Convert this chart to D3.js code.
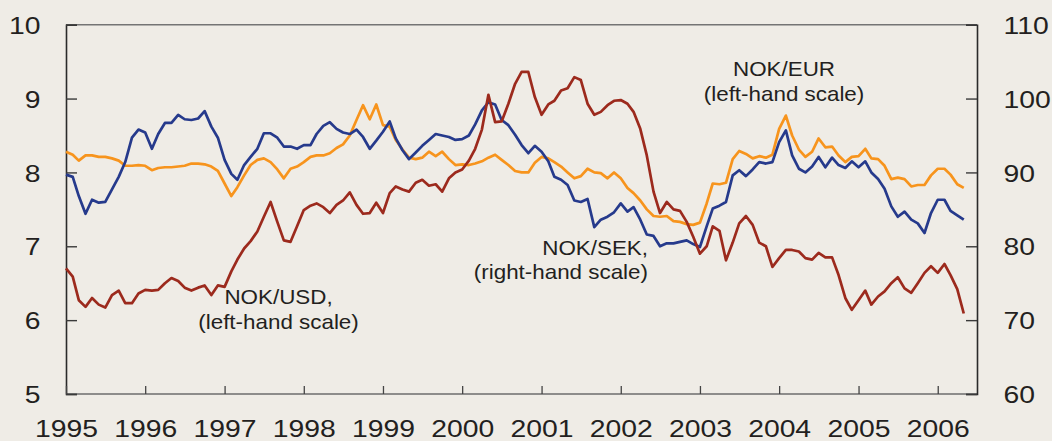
<!DOCTYPE html>
<html>
<head>
<meta charset="utf-8">
<script src="https://cdn.jsdelivr.net/npm/d3@7"></script>
<style>
  html, body { margin: 0; padding: 0; background: #efece6; }
  svg { display: block; }
  text { font-family: "Liberation Sans", Arial, Helvetica, sans-serif; fill: #231f20; }
</style>
</head>
<body>
<svg id="chart" width="1052" height="441"></svg>
<script>
// Monthly exchange rates, January 1995 to May 2006
const startMonth = new Date(1995, 0, 1);
const endMonth = new Date(2006, 5, 1);

// NOK per USD (left-hand scale)
const nokUsd = [
  6.70, 6.59, 6.27, 6.18, 6.30, 6.21, 6.17, 6.34, 6.40, 6.23, 6.23, 6.36,
  6.41, 6.40, 6.41, 6.50, 6.57, 6.53, 6.44, 6.40, 6.44, 6.47, 6.34, 6.47,
  6.45, 6.66, 6.82, 6.97, 7.07, 7.20, 7.40, 7.60, 7.33, 7.08, 7.06, 7.27,
  7.49, 7.55, 7.58, 7.53, 7.45, 7.56, 7.62, 7.73, 7.56, 7.44, 7.45, 7.59,
  7.45, 7.72, 7.81, 7.77, 7.74, 7.86, 7.90, 7.82, 7.84, 7.74, 7.92, 8.00,
  8.04, 8.16, 8.32, 8.58, 9.05, 8.68, 8.69, 8.93, 9.20, 9.36, 9.36, 9.02,
  8.78, 8.92, 8.97, 9.11, 9.14, 9.29, 9.25, 8.93, 8.78, 8.82, 8.91, 8.97,
  8.98, 8.93, 8.82, 8.59, 8.23, 7.74, 7.45, 7.60, 7.50, 7.48, 7.33, 7.13,
  6.90, 7.00, 7.27, 7.21, 6.81, 7.05, 7.31, 7.41, 7.29, 7.05, 7.00, 6.72,
  6.84, 6.95, 6.95, 6.93, 6.84, 6.82, 6.91, 6.85, 6.85, 6.61, 6.30, 6.14,
  6.27, 6.40, 6.21, 6.32, 6.39, 6.50, 6.58, 6.43, 6.37, 6.50, 6.64, 6.73,
  6.64, 6.76, 6.61, 6.42, 6.09
];

// NOK per EUR (left-hand scale)
const nokEur = [
  8.28, 8.24, 8.16, 8.23, 8.23, 8.21, 8.21, 8.19, 8.16, 8.09, 8.09, 8.10,
  8.09, 8.03, 8.06, 8.07, 8.07, 8.08, 8.09, 8.12, 8.12, 8.11, 8.08, 8.02,
  7.85, 7.68, 7.80, 7.96, 8.10, 8.17, 8.19, 8.14, 8.04, 7.92, 8.05, 8.08,
  8.14, 8.21, 8.23, 8.23, 8.26, 8.33, 8.38, 8.50, 8.71, 8.91, 8.72, 8.92,
  8.64, 8.62, 8.44, 8.31, 8.20, 8.18, 8.20, 8.28, 8.22, 8.28, 8.18, 8.10,
  8.11, 8.10, 8.12, 8.15, 8.20, 8.24, 8.17, 8.10, 8.02, 8.00, 8.00, 8.13,
  8.21, 8.19, 8.14, 8.08, 8.00, 7.92, 7.95, 8.05, 8.00, 7.99, 7.92, 8.00,
  7.92, 7.79, 7.72, 7.62, 7.50, 7.41, 7.40, 7.41, 7.34, 7.33, 7.30, 7.29,
  7.32, 7.58, 7.85, 7.84, 7.86, 8.18, 8.29, 8.25, 8.19, 8.22, 8.20, 8.24,
  8.59, 8.77, 8.50, 8.31, 8.21, 8.28, 8.46, 8.34, 8.35, 8.23, 8.14, 8.21,
  8.22, 8.32, 8.19, 8.18, 8.09, 7.91, 7.93, 7.91, 7.81, 7.83, 7.83, 7.96,
  8.05, 8.05, 7.97, 7.84, 7.79
];

// NOK per 100 SEK (right-hand scale)
const nokSek = [
  89.7, 89.4, 86.8, 84.4, 86.3, 85.9, 86.0, 87.7, 89.4, 91.4, 94.7, 95.8,
  95.4, 93.2, 95.2, 96.7, 96.7, 97.8, 97.2, 97.1, 97.3, 98.3, 96.2, 94.7,
  91.7, 89.8, 89.0, 91.0, 92.1, 93.2, 95.3, 95.3, 94.7, 93.5, 93.5, 93.2,
  93.7, 93.7, 95.2, 96.3, 96.8, 95.9, 95.4, 95.2, 95.8, 94.8, 93.2, 94.3,
  95.5, 96.9, 94.6, 93.0, 91.8, 92.7, 93.6, 94.4, 95.2, 95.0, 94.8, 94.4,
  94.5, 95.0, 96.5, 98.4, 99.5, 99.2, 97.1, 96.4, 95.1, 93.7, 92.6, 93.6,
  92.8, 91.5, 89.4, 89.0, 88.3, 86.2, 86.0, 86.4, 82.6, 83.6, 84.0, 84.6,
  85.8, 84.7, 85.3, 83.6, 81.6, 81.4, 80.0, 80.4, 80.4, 80.6, 80.8, 80.3,
  79.9, 82.7, 85.1, 85.5, 86.0, 89.6, 90.3, 89.5, 90.4, 91.4, 91.2, 91.4,
  94.1, 95.7, 92.3, 90.5, 90.0, 90.8, 92.1, 90.7, 92.0, 91.0, 90.6, 91.5,
  90.7, 91.5, 90.0, 89.1, 87.8, 85.4, 84.0, 84.7, 83.6, 83.1, 81.8, 84.5,
  86.3, 86.3, 84.8, 84.2, 83.6
];

// Axis ticks
const leftTicks = [5, 6, 7, 8, 9, 10];
const rightTicks = [60, 70, 80, 90, 100, 110];
const yearTicks = [1995, 1996, 1997, 1998, 1999, 2000, 2001, 2002, 2003, 2004, 2005, 2006];

// Series labels
const labelUsd = ["NOK/USD,", "(left-hand scale)"];
const labelSek = ["NOK/SEK,", "(right-hand scale)"];
const labelEur = ["NOK/EUR", "(left-hand scale)"];

const months = d3.timeMonth.range(startMonth, endMonth);

const svg = d3.select("#chart");
const W = 1052, H = 441;
const plot = { left: 66, right: 977, top: 24.7, bottom: 394 };

svg.append("rect").attr("width", W).attr("height", H).attr("fill", "#efece6");

const x = d3.scaleTime()
  .domain([new Date(1995, 0, 1), new Date(2006, 6, 1)])
  .range([plot.left, plot.right]);
const yL = d3.scaleLinear().domain([5, 10]).range([plot.bottom, plot.top]);
const yR = d3.scaleLinear().domain([60, 110]).range([plot.bottom, plot.top]);

const TICK_FONT = 24, TICK_STRETCH = 1.18;

// Frame: light top and bottom rules, dark side axes
svg.append("line").attr("x1", plot.left).attr("x2", plot.right)
  .attr("y1", plot.top).attr("y2", plot.top)
  .attr("stroke", "#747474").attr("stroke-width", 1.4);
svg.append("line").attr("x1", plot.left).attr("x2", plot.right)
  .attr("y1", plot.bottom).attr("y2", plot.bottom)
  .attr("stroke", "#6c6c6c").attr("stroke-width", 1.4);

// Left axis
const gL = svg.append("g").attr("transform", `translate(${plot.left},0)`)
  .call(d3.axisLeft(yL).tickValues(leftTicks).tickSize(-11).tickFormat(d3.format("d")));
gL.select(".domain").attr("stroke", "#2a2a2a").attr("stroke-width", 1.6);
gL.selectAll(".tick line").attr("stroke", "#3a3a3a").attr("stroke-width", 1.4);
gL.selectAll(".tick text")
  .attr("x", 0).attr("dy", "0.36em")
  .attr("transform", `translate(-25.5,0) scale(${TICK_STRETCH},1)`)
  .attr("text-anchor", "end")
  .style("font-size", TICK_FONT + "px")
  .style("font-family", "'Liberation Sans', Arial, sans-serif")
  .attr("fill", "#231f20");

// Right axis
const gR = svg.append("g").attr("transform", `translate(${plot.right},0)`)
  .call(d3.axisRight(yR).tickValues(rightTicks).tickSize(-11).tickFormat(d3.format("d")));
gR.select(".domain").attr("stroke", "#2a2a2a").attr("stroke-width", 1.6);
gR.selectAll(".tick line").attr("stroke", "#3a3a3a").attr("stroke-width", 1.4);
gR.selectAll(".tick text")
  .attr("x", 0).attr("dy", "0.36em")
  .attr("transform", `translate(26.5,0) scale(${TICK_STRETCH},1)`)
  .attr("text-anchor", "start")
  .style("font-size", TICK_FONT + "px")
  .style("font-family", "'Liberation Sans', Arial, sans-serif")
  .attr("fill", "#231f20");

// Bottom axis (years)
const gB = svg.append("g").attr("transform", `translate(0,${plot.bottom})`)
  .call(d3.axisBottom(x)
    .tickValues(yearTicks.map(y => new Date(y, 0, 1)))
    .tickSize(-8)
    .tickFormat(d3.timeFormat("%Y")));
gB.select(".domain").remove();
gB.selectAll(".tick line").attr("stroke", "#444").attr("stroke-width", 1.3);
gB.selectAll(".tick text")
  .attr("y", 0).attr("dy", 0)
  .attr("transform", `translate(0,42.5) scale(${TICK_STRETCH},1)`)
  .attr("text-anchor", "middle")
  .style("font-size", TICK_FONT + "px")
  .style("font-family", "'Liberation Sans', Arial, sans-serif")
  .attr("fill", "#231f20");

// Series lines
const series = [
  { values: nokEur, scale: yL, color: "#f7941d" },
  { values: nokSek, scale: yR, color: "#263a8c" },
  { values: nokUsd, scale: yL, color: "#9c2a1d" }
];
series.forEach(s => {
  const line = d3.line()
    .x((d, i) => x(months[i]))
    .y(d => s.scale(d));
  svg.append("path")
    .datum(s.values)
    .attr("fill", "none")
    .attr("stroke", s.color)
    .attr("stroke-width", 2.7)
    .attr("stroke-linejoin", "round")
    .attr("d", line);
});

// Series labels
const LABEL_FONT = 20, LABEL_STRETCH = 1.12;
function addLabel(lines, px, baselines, anchor) {
  lines.forEach((t, k) => {
    svg.append("text")
      .attr("transform", `translate(${px},${baselines[k]}) scale(${LABEL_STRETCH},1)`)
      .attr("text-anchor", anchor)
      .style("font-size", LABEL_FONT + "px")
      .text(t);
  });
}
addLabel(labelUsd, 278.5, [304.3, 329], "middle");
addLabel(labelSek, 648, [254.5, 279], "end");
addLabel(labelEur, 784, [76.3, 100.5], "middle");
</script>
</body>
</html>
